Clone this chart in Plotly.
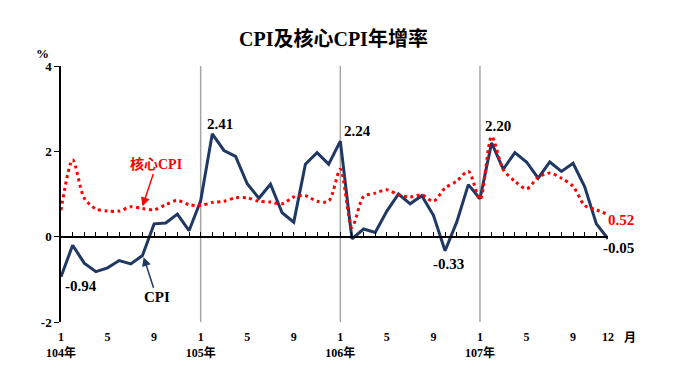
import plotly.graph_objects as go

months = list(range(1, 49))
cpi = [-0.94, -0.20, -0.62, -0.82, -0.73, -0.56, -0.64, -0.44, 0.30, 0.32, 0.53, 0.14,
       0.84, 2.41, 2.02, 1.88, 1.24, 0.90, 1.23, 0.56, 0.34, 1.70, 1.97, 1.70,
       2.24, -0.05, 0.18, 0.10, 0.60, 1.00, 0.77, 0.96, 0.50, -0.33, 0.34, 1.22,
       0.89, 2.20, 1.58, 1.97, 1.75, 1.37, 1.75, 1.53, 1.72, 1.17, 0.30, -0.05]
core = [0.62, 1.80, 0.90, 0.65, 0.60, 0.60, 0.70, 0.66, 0.63, 0.75, 0.85, 0.75,
        0.73, 0.80, 0.83, 0.91, 0.91, 0.83, 0.81, 0.77, 0.93, 0.96, 0.83, 0.83,
        1.58, 0.22, 0.94, 1.02, 1.10, 0.98, 0.93, 0.98, 0.83, 1.14, 1.30, 1.53,
        0.87, 2.35, 1.57, 1.30, 1.12, 1.39, 1.49, 1.37, 1.18, 0.73, 0.63, 0.52]
tick_vals = [1, 5, 9, 13, 17, 21, 25, 29, 33, 37, 41, 45, 48]
tick_text = ["1<br>104年", "5", "9", "1<br>105年", "5", "9", "1<br>106年", "5", "9",
             "1<br>107年", "5", "9", "12"]
year_starts = [13, 25, 37]
y_ticks = [-2, 0, 2, 4]
y_tick_text = ["-2", "0", "2", "4"]

FONT = "Liberation Serif, 'Noto Sans CJK TC', serif"
NAVY = "#1f3864"
RED = "#ff0000"

# page offset (browser body margin) compensation
OFF = 8
W, H = 680, 383
L, T = 61 - OFF, 66 - OFF
pw, ph = 547, 256
R, B = W - L - pw, H - T - ph

fig = go.Figure()
fig.add_trace(go.Scatter(x=months, y=core, mode="lines", xaxis="x2",
                         line=dict(color=RED, width=3, dash="3px,3.5px", shape="spline", smoothing=0.8),
                         hoverinfo="skip"))
fig.add_trace(go.Scatter(x=months, y=cpi, mode="lines", xaxis="x",
                         line=dict(color=NAVY, width=3),
                         hoverinfo="skip"))

for ys in year_starts:
    fig.add_shape(type="line", xref="x", yref="y", x0=ys, x1=ys, y0=-2, y1=4,
                  line=dict(color="#a6a6a6", width=1.5), layer="below")

bold = dict(family=FONT, size=15, color="black", weight="bold")
ann = []
def lab(i, series, text, xs, ys, color="black"):
    ann.append(dict(x=months[i], y=series[i], xref="x", yref="y", text=text, showarrow=False,
                    xshift=xs, yshift=ys, font=dict(bold, color=color)))
lab(13, cpi, "2.41", 8, 10)
lab(24, cpi, "2.24", 17, 10)
lab(37, cpi, "2.20", 6, 17)
lab(0, cpi, "-0.94", 20, -9)
lab(33, cpi, "-0.33", 3, -13)
lab(47, cpi, "-0.05", 10, -9)
lab(47, core, "0.52", 13, -6, RED)

ann.append(dict(x=months[7], y=core[7] + 0.05, xref="x", yref="y", text="核心CPI",
                showarrow=True, ax=14, ay=-42, arrowhead=2, arrowsize=1.2, arrowwidth=1.5,
                arrowcolor=RED, font=dict(family=FONT, size=14, color=RED, weight="bold")))
ann.append(dict(x=months[7] + 0.1, y=cpi[7] - 0.04, xref="x", yref="y", text="CPI",
                showarrow=True, ax=13, ay=40, arrowhead=2, arrowsize=1.2, arrowwidth=1.5,
                arrowcolor=NAVY, font=dict(family=FONT, size=15, color="black", weight="bold")))

px_ann = [
    (42, 53, "%", 13),
    (630, 338, "月", 12),
    (333, 38, "CPI及核心CPI年增率", 20),
]
for x, y, t, s in px_ann:
    ann.append(dict(x=(x - OFF - L) / pw, y=(H - B - (y - OFF)) / ph, xref="paper", yref="paper",
                    text=t, showarrow=False, xanchor="center", yanchor="middle",
                    font=dict(family=FONT, size=s, color="black", weight="bold")))

fig.update_layout(
    width=W, height=H, margin=dict(l=L, r=R, t=T, b=B, autoexpand=False),
    paper_bgcolor="white", plot_bgcolor="white", showlegend=False,
    font=dict(family=FONT, color="black"),
    annotations=ann,
    xaxis=dict(range=[1, 48], tickmode="array", tickvals=tick_vals, ticktext=tick_text,
               showline=False, showgrid=False, zeroline=False, ticks="", ticklabelstandoff=6,
               tickfont=dict(family=FONT, size=12, color="black", weight="bold")),
    xaxis2=dict(range=[1, 48], overlaying="x", anchor="free", position=1/3, side="bottom",
                showline=True, linecolor="black", linewidth=1.5, showgrid=False, zeroline=False,
                ticks="inside", tick0=1, dtick=1, ticklen=4, tickcolor="black", showticklabels=False),
    yaxis=dict(range=[-2, 4], tickmode="array", tickvals=y_ticks, ticktext=y_tick_text,
               showline=True, linecolor="black",
               linewidth=1.5, ticks="outside", ticklen=5, tickcolor="black", showgrid=False,
               zeroline=False, tickfont=dict(family=FONT, size=13, color="black", weight="bold")),
)

fig.write_html("out.html")
